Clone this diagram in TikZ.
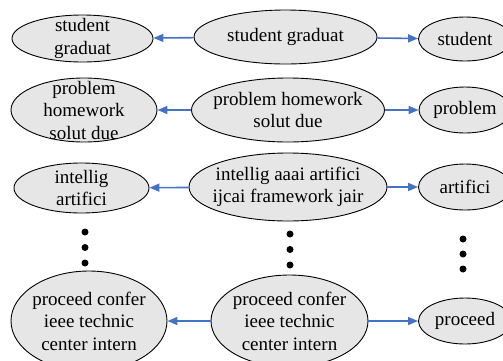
\documentclass[tikz,border=0pt]{standalone}
\usepackage{fontspec}
\setmainfont{Liberation Serif}
\usetikzlibrary{shapes.geometric,arrows.meta}
\definecolor{ellfill}{HTML}{E6E6E6}
\definecolor{arrblue}{HTML}{4472C4}
\tikzset{
  ell/.style={ellipse, draw=black, line width=0.9pt, fill=ellfill, inner sep=0pt},
  txt/.style={align=center, inner sep=0pt, font=\fontsize{19}{22.5}\selectfont},
  conn/.style={draw=arrblue, line width=1.6pt, -{Triangle[length=10pt,width=8pt]}},
  dotm/.style={circle, fill=black, inner sep=0pt, minimum size=7pt}
}
\begin{document}
\begin{tikzpicture}[x=1pt,y=-1pt]
\useasboundingbox (0,0) rectangle (503,360);
\clip (0,0) rectangle (503,360);
% row 1
\node[ell, minimum width=141pt, minimum height=47pt] (l1) at (82.5,38.5) {};
\node[txt] at (l1) {student\\graduat};
\node[ell, minimum width=183pt, minimum height=54pt] (m1) at (285.5,37) {};
\node[txt] at (m1) {student graduat};
\node[ell, minimum width=93pt, minimum height=44pt] (r1) at (465,39) {};
\node[txt] at (r1) {student};
% row 2
\node[ell, minimum width=146pt, minimum height=64pt] (l2) at (84,110) {};
\node[txt] at (l2) {problem\\homework\\solut due};
\node[ell, minimum width=193pt, minimum height=64pt] (m2) at (288,110) {};
\node[txt] at (m2) {problem homework\\solut due};
\node[ell, minimum width=92pt, minimum height=46pt] (r2) at (465,110) {};
\node[txt] at (r2) {problem};
% row 3
\node[ell, minimum width=135pt, minimum height=50pt] (l3) at (81.5,188) {};
\node[txt] at (l3) {intellig\\artifici};
\node[ell, minimum width=198pt, minimum height=68pt] (m3) at (288,187) {};
\node[txt] at (m3) {intellig aaai artifici\\ijcai framework jair};
\node[ell, minimum width=93pt, minimum height=46pt] (r3) at (465,187) {};
\node[txt] at (r3) {artifici};
% dots
\node[dotm] (d1) at (85,232) {};
\node[dotm] (d2) at (85,247.5) {};
\node[dotm] (d3) at (85,263) {};
\node[dotm] (d4) at (290,234) {};
\node[dotm] (d5) at (290,249.5) {};
\node[dotm] (d6) at (290,265) {};
\node[dotm] (d7) at (463,239) {};
\node[dotm] (d8) at (463,254) {};
\node[dotm] (d9) at (463,269) {};
% row 4
\node[ell, minimum width=156pt, minimum height=100pt] (l4) at (89,321) {};
\node[txt] at (l4) {proceed confer\\ieee technic\\center intern};
\node[ell, minimum width=157pt, minimum height=92pt] (m4) at (289.5,321) {};
\node[txt] at (m4) {proceed confer\\ieee technic\\center intern};
\node[ell, minimum width=93pt, minimum height=46pt] (r4) at (465,321) {};
\node[txt] at (r4) {proceed};
% connectors
\draw[conn] (m1) -- (l1);
\draw[conn] (m1) -- (r1);
\draw[conn] (m2) -- (l2);
\draw[conn] (m2) -- (r2);
\draw[conn] (m3) -- (l3);
\draw[conn] (m3) -- (r3);
\draw[conn] (m4) -- (l4);
\draw[conn] (m4) -- (r4);
\end{tikzpicture}
\end{document}
